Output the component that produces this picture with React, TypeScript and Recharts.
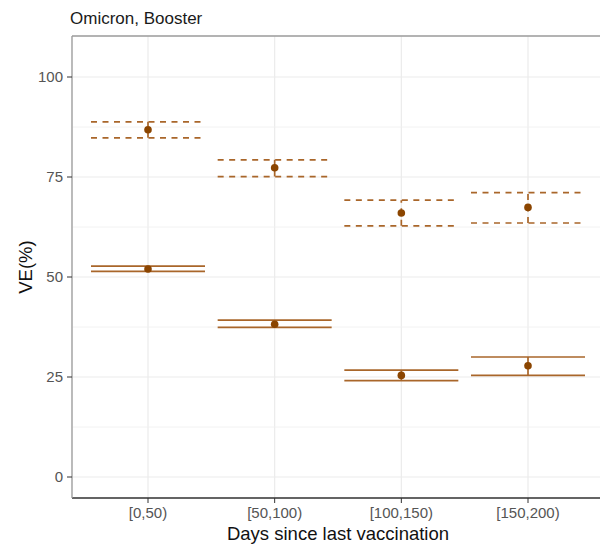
import React from "react";
import {
  ComposedChart,
  Scatter,
  ErrorBar,
  XAxis,
  YAxis,
  CartesianGrid,
  ReferenceLine,
} from "recharts";

const categories = ["[0,50)", "[50,100)", "[100,150)", "[150,200)"];

// dashed series
const dashedVE = [86.8, 77.3, 66.0, 67.4];
const dashedLow = [84.8, 75.1, 62.8, 63.5];
const dashedHigh = [88.8, 79.3, 69.2, 71.1];

// solid series
const solidVE = [52.0, 38.2, 25.4, 27.8];
const solidLow = [51.4, 37.4, 24.1, 25.4];
const solidHigh = [52.7, 39.2, 26.7, 30.0];

const yTicks = [0, 25, 50, 75, 100];
const yMinor = [12.5, 37.5, 62.5, 87.5];

const build = (ve: number[], lo: number[], hi: number[]) =>
  ve.map((v, i) => ({
    x: i + 1,
    y: v,
    err: [parseFloat((v - lo[i]).toFixed(2)), parseFloat((hi[i] - v).toFixed(2))],
  }));

const dashedData = build(dashedVE, dashedLow, dashedHigh);
const solidData = build(solidVE, solidLow, solidHigh);

const LINE = "#a9662a";
const POINT = "#8b4500";
const FONT = "'Liberation Sans', Arial, sans-serif";

const Dot = (props: any) => <circle cx={props.cx} cy={props.cy} r={3.8} fill={POINT} />;

const App: React.FC = () => {
  return (
    <div
      style={{
        position: "absolute",
        left: 0,
        top: 0,
        width: 600,
        height: 544,
        overflow: "hidden",
        background: "#fff",
        fontFamily: FONT,
      }}
    >
      <div
        style={{
          position: "absolute",
          left: 70,
          top: 10,
          fontSize: 17,
          lineHeight: "17px",
          color: "#1a1a1a",
        }}
      >
        Omicron, Booster
      </div>
      <ComposedChart
        width={605}
        height={544}
        margin={{ top: 36, right: 1, left: 0, bottom: 0 }}
        style={{ fontFamily: FONT }}
      >
        <CartesianGrid stroke="#ebebeb" strokeWidth={1.2} />
        {yMinor.map((v) => (
          <ReferenceLine key={v} y={v} stroke="#f0f0f0" strokeWidth={0.9} />
        ))}
        <ReferenceLine y={110.25} stroke="#9c9c9c" strokeWidth={1.3} />
        <XAxis
          dataKey="x"
          type="number"
          domain={[0.4, 4.6]}
          ticks={[1, 2, 3, 4]}
          tickFormatter={(v: number) => categories[v - 1]}
          height={46}
          tickSize={5}
          tickMargin={4}
          axisLine={{ stroke: "#333", strokeWidth: 1.3 }}
          tickLine={{ stroke: "#333" }}
          tick={{ fill: "#555", fontSize: 15 }}
          allowDataOverflow
          label={{
            value: "Days since last vaccination",
            position: "insideBottom",
            offset: 4,
            fill: "#111",
            fontSize: 18.5,
          }}
        />
        <YAxis
          dataKey="y"
          type="number"
          domain={[-5.25, 110.25]}
          ticks={yTicks}
          width={72}
          tickSize={5}
          tickMargin={4}
          axisLine={{ stroke: "#9c9c9c", strokeWidth: 1.3 }}
          tickLine={{ stroke: "#333" }}
          tick={{ fill: "#555", fontSize: 15 }}
          allowDataOverflow
          label={{
            value: "VE(%)",
            angle: -90,
            position: "insideLeft",
            offset: 25,
            fill: "#111",
            fontSize: 18.5,
            style: { textAnchor: "middle" },
          }}
        />
        <Scatter data={dashedData} dataKey="y" shape={Dot} isAnimationActive={false}>
          <ErrorBar
            dataKey="err"
            direction="y"
            width={57}
            stroke={LINE}
            strokeWidth={1.7}
            strokeDasharray="6 5.5"
            isAnimationActive={false}
          />
        </Scatter>
        <Scatter data={solidData} dataKey="y" shape={Dot} isAnimationActive={false}>
          <ErrorBar
            dataKey="err"
            direction="y"
            width={57}
            stroke={LINE}
            strokeWidth={1.7}
            isAnimationActive={false}
          />
        </Scatter>
      </ComposedChart>
    </div>
  );
};

export default App;
